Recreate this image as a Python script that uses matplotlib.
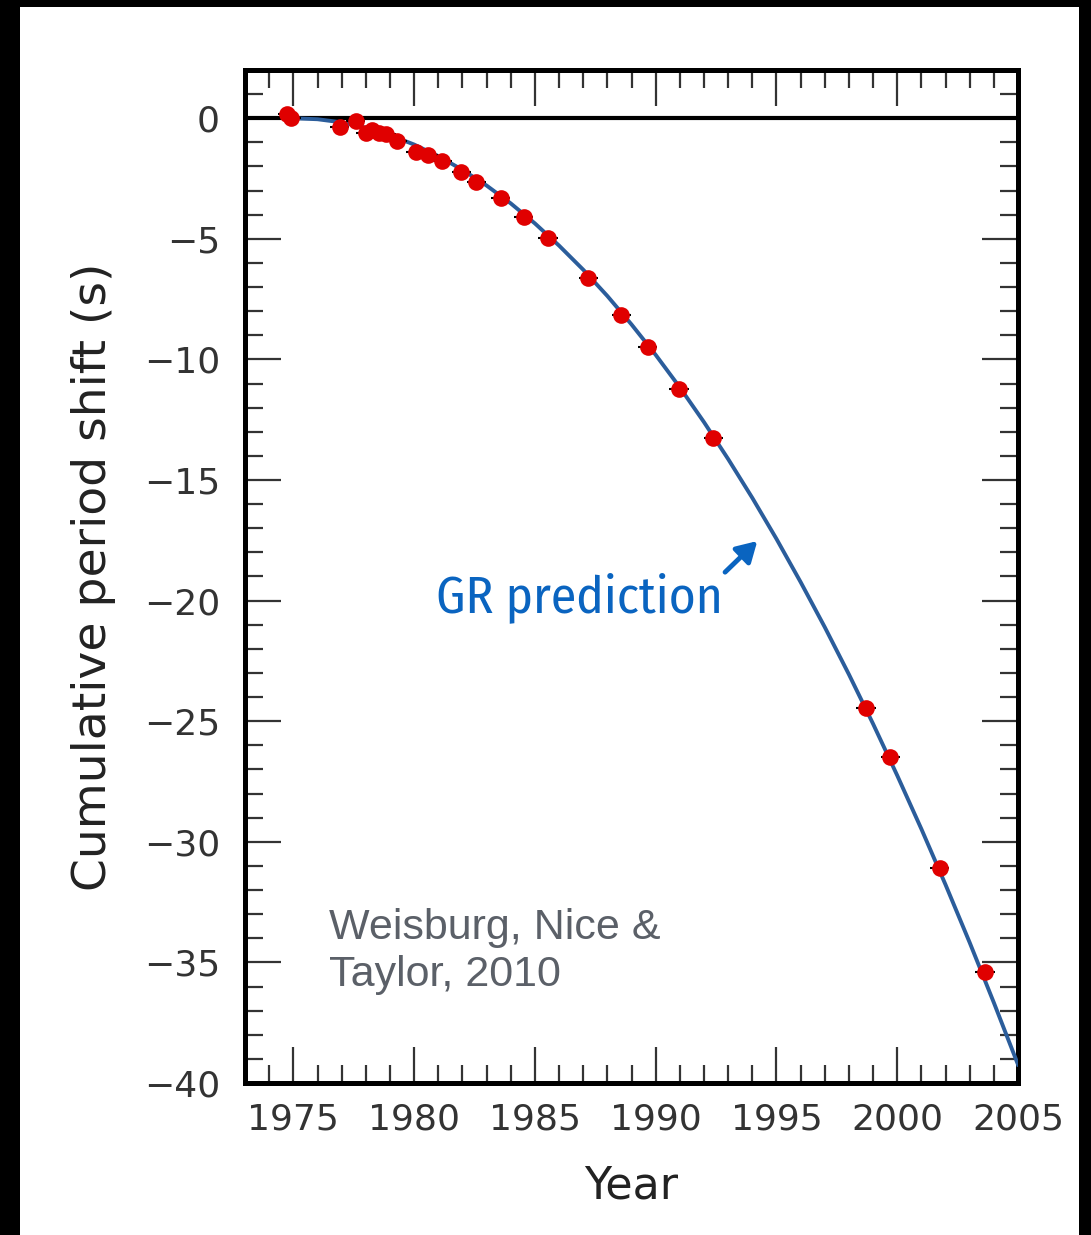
import numpy as np
import matplotlib
matplotlib.use("Agg")
import matplotlib.pyplot as plt
from matplotlib.patches import Rectangle

# 관측값 (년도, 누적 주기 변화 s)
obs_year = [1974.75, 1974.92, 1976.92, 1977.58, 1978.00, 1978.25, 1978.54, 1978.83,
            1979.29, 1980.08, 1980.58, 1981.17, 1981.96, 1982.58, 1983.58, 1984.54,
            1985.54, 1987.21, 1988.58, 1989.67, 1990.96, 1992.38, 1998.71, 1999.71,
            2001.75, 2003.63]
obs_shift = [0.17, 0.00, -0.37, -0.12, -0.62, -0.50, -0.62, -0.66,
             -0.95, -1.41, -1.53, -1.78, -2.24, -2.65, -3.32, -4.10,
             -4.98, -6.63, -8.17, -9.49, -11.24, -13.27, -24.46, -26.49,
             -31.09, -35.41]

# GR 예측 곡선 (1년 간격으로 읽은 값)
gr_year = list(range(1975, 2006))
gr_shift = [0.00, -0.04, -0.17, -0.39, -0.70, -1.09, -1.57, -2.14, -2.79, -3.53,
            -4.36, -5.28, -6.28, -7.37, -8.55, -9.81, -11.16, -12.60, -14.13, -15.74,
            -17.44, -19.23, -21.10, -23.06, -25.11, -27.25, -29.47, -31.78, -34.18, -36.67,
            -39.24]

x_ticks = [1975, 1980, 1985, 1990, 1995, 2000, 2005]
y_ticks = [0, -5, -10, -15, -20, -25, -30, -35, -40]

fig = plt.figure(figsize=(10.91, 12.35), dpi=100)
fig.patch.set_facecolor("black")
# 흰 바탕 판
fig.patches.append(Rectangle((20 / 1091, 0), 1059 / 1091, 1 - 7 / 1235,
                             transform=fig.transFigure, facecolor="white",
                             edgecolor="none", zorder=-10))

ax = fig.add_axes([0.2246, 0.1231, 0.7085, 0.8202])
ax.set_facecolor("white")

ax.axhline(0, color="black", lw=3, zorder=2)
ax.plot(gr_year, gr_shift, color="#2b5d9b", lw=2.8, zorder=3)
ax.errorbar(obs_year, obs_shift, xerr=0.4, fmt="o", color="#e00000",
            ecolor="black", elinewidth=1.5, capsize=0, markersize=12,
            markeredgewidth=0, zorder=4)

ax.set_xlim(1973, 2005)
ax.set_ylim(-40, 2)
ax.set_xticks(x_ticks)
ax.set_yticks(y_ticks)
ax.set_xticks(np.arange(1973, 2006, 1), minor=True)
ax.set_yticks(np.arange(-40, 3, 1), minor=True)

for s in ax.spines.values():
    s.set_linewidth(3.6)
ax.tick_params(which="both", direction="in", top=True, right=True, colors="#333333")
ax.tick_params(which="major", length=26, width=1.6, labelsize=26, pad=14)
ax.tick_params(which="minor", length=13, width=1.6)
ax.tick_params(axis="y", which="major", pad=18)

ax.set_xlabel("Year", fontsize=32, color="#222222", labelpad=20)
ax.set_ylabel("Cumulative period shift (s)", fontsize=34, color="#222222", labelpad=20)

# 주석
ax.text(1980.92, -20.48, "GR prediction", color="#0a64c0", fontsize=37,
        family=["Fira Sans Condensed", "DejaVu Sans"], weight="normal",
        ha="left", va="baseline")
ax.annotate("", xy=(1994.29, -17.45), xytext=(1992.79, -18.9),
            arrowprops=dict(arrowstyle="-|>,head_length=1.2,head_width=0.7",
                            color="#0a64c0", lw=3.5))
ax.text(1976.46, -34.55, "Weisburg, Nice &\nTaylor, 2010", color="#5b6068",
        fontsize=31, family=["Liberation Sans", "DejaVu Sans"], ha="left",
        va="center", linespacing=1.2)

fig.savefig("out.png", dpi=100, facecolor=fig.get_facecolor())
